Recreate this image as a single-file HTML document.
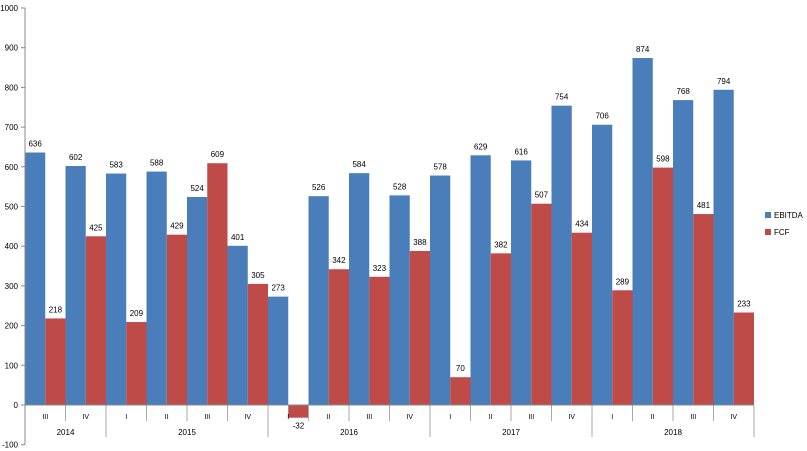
<!DOCTYPE html>
<html><head><meta charset="utf-8"><style>
body{margin:0;background:#fff;}
svg{display:block;font-family:"Liberation Sans",sans-serif;}
</style></head><body>
<svg id="chart" width="807" height="451"></svg>
<script>
const quarters=["III","IV","I","II","III","IV","I","II","III","IV","I","II","III","IV","I","II","III","IV"];
const years=["2014","2015","2016","2017","2018"];
const yearSpans=[2,4,4,4,4];
const ebitda=[636,602,583,588,524,401,273,526,584,528,578,629,616,754,706,874,768,794];
const fcf=[218,425,209,429,609,305,-32,342,323,388,70,382,507,434,289,598,481,233];
const yTicks=[-100,0,100,200,300,400,500,600,700,800,900,1000];
const NS="http://www.w3.org/2000/svg";
const svg=document.getElementById('chart');
const x0=25,x1=754,cw=(x1-x0)/quarters.length;
const y=v=>405-v*0.397;
function mk(t,a,txt){const e=document.createElementNS(NS,t);for(const k in a)e.setAttribute(k,a[k]);if(txt!==undefined)e.textContent=txt;svg.appendChild(e);return e;}
yTicks.forEach(t=>{
 const l=mk('line',{x1:x0-4,x2:x0,y1:y(t),y2:y(t),stroke:'#888'});
 
 
 const tx=mk('text',{x:18,y:y(t)+3,'font-size':8,'text-anchor':'end',fill:'#000'},t);
 
 
});
quarters.forEach((q,i)=>{
 const bx=x0+i*cw, half=cw/2;
 const e=ebitda[i], f=fcf[i];
 const b1=mk('rect',{x:bx,y:Math.min(y(e),y(0)),width:half,height:Math.abs(y(e)-y(0)),fill:'#4a7ebb'});
 
 
 const b2=mk('rect',{x:bx+half,y:Math.min(y(f),y(0)),width:half,height:Math.abs(y(f)-y(0)),fill:'#be4b48'});
 
 
 const l1=mk('text',{x:bx+half/2,y:y(e)-6,'font-size':8,'text-anchor':'middle'},e);
 
 
 const l2=mk('text',{x:bx+half*1.5,y:(f>=0?y(f)-6:y(f)+11),'font-size':8,'text-anchor':'middle'},f);
 
 
 const ql=mk('text',{x:bx+half,y:419,'font-size':7,'text-anchor':'middle'},q);
 
 
 if(i>0){const t=mk('line',{x1:bx,x2:bx,y1:405,y2:421,stroke:'#aaa'});
 
 }
});
let idx=0;
years.forEach((yr,j)=>{
 const s=x0+idx*cw; idx+=yearSpans[j]; const e=x0+idx*cw;
 const t=mk('line',{x1:e,x2:e,y1:405,y2:437,stroke:'#aaa'});
 
 
 const tx=mk('text',{x:(s+e)/2,y:435,'font-size':8,'text-anchor':'middle'},yr);
 
 
});
const ax=mk('line',{x1:x0,x2:x0,y1:y(1000),y2:y(-100),stroke:'#888'});


const zx=mk('line',{x1:x0,x2:x1,y1:405,y2:405,stroke:'#888'});


[["EBITDA","#4a7ebb",216],["FCF","#be4b48",233]].forEach(([n,c,ly])=>{
 const r=mk('rect',{x:765,y:ly-4,width:6,height:6,fill:c});
 
 
 const t=mk('text',{x:774,y:ly+2,'font-size':8},n);
 
 
});
</script>
</body></html>
